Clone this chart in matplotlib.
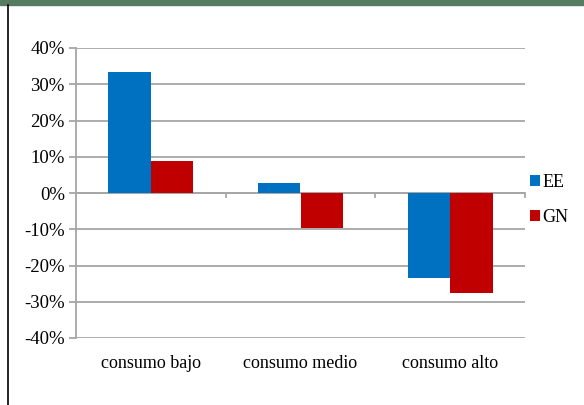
import matplotlib
matplotlib.use("Agg")
import matplotlib.pyplot as plt
import numpy as np
from matplotlib.ticker import FuncFormatter

### Data
categories = ["consumo bajo", "consumo medio", "consumo alto"]
ee_values = [33.3, 2.7, -23.4]
gn_values = [8.9, -9.7, -27.7]
series_names = ["EE", "GN"]
ee_color = "#0070c0"
gn_color = "#c00000"
grid_color = "#a6a6a6"

plt.rcParams['font.family'] = ['Liberation Serif', 'DejaVu Serif']

fig = plt.figure(figsize=(5.84, 4.05), dpi=100)
W, H = 584, 405

### Green strip on top and black border on the left
fig.patches.append(plt.Rectangle((0, 1 - 5 / H), 1, 5 / H, transform=fig.transFigure,
                                 color="#557b60", zorder=0))
fig.add_artist(plt.Line2D([7.5 / W, 7.5 / W], [0, 1 - 5 / H], transform=fig.transFigure,
                          color="black", lw=1.2))

left, right, top, bottom = 76, 525, 48, 338
ax = fig.add_axes([left / W, 1 - bottom / H, (right - left) / W, (bottom - top) / H])

x = np.arange(len(categories))
width = 0.285
ax.bar(x - width / 2, ee_values, width, color=ee_color, label=series_names[0], zorder=3)
ax.bar(x + width / 2, gn_values, width, color=gn_color, label=series_names[1], zorder=3)

ax.set_xlim(-0.5, len(categories) - 0.5)
ax.set_ylim(-40, 40)
ax.set_yticks(np.arange(-40, 41, 10))
ax.yaxis.set_major_formatter(FuncFormatter(lambda v, p: f"{int(v)}%"))
ax.yaxis.grid(True, color=grid_color, lw=1.3, zorder=0)
ax.tick_params(axis='y', length=5, color=grid_color, width=1.3, labelsize=13.5, pad=3)

for s in ["top", "right", "bottom"]:
    ax.spines[s].set_visible(False)
ax.spines["left"].set_color(grid_color)
ax.spines["left"].set_linewidth(1.3)

### Zero line with category boundary ticks
ax.axhline(0, color=grid_color, lw=1.3, zorder=2)
for b in np.arange(0.5, len(categories), 1.0):
    ax.plot([b, b], [0, -1.2], color=grid_color, lw=1.3, zorder=2, clip_on=False)

ax.set_xticks(x)
ax.set_xticklabels(categories, fontsize=13)
ax.tick_params(axis='x', length=0, pad=12)
ax.set_facecolor("none")

ax.legend(loc="upper left", bbox_to_anchor=(530 / W, 1 - 174 / H), bbox_transform=fig.transFigure,
          frameon=False, fontsize=13, handlelength=0.55, handleheight=0.55,
          handletextpad=0.15, labelspacing=1.0, borderpad=0, borderaxespad=0)

fig.savefig("out.png", dpi=100)
